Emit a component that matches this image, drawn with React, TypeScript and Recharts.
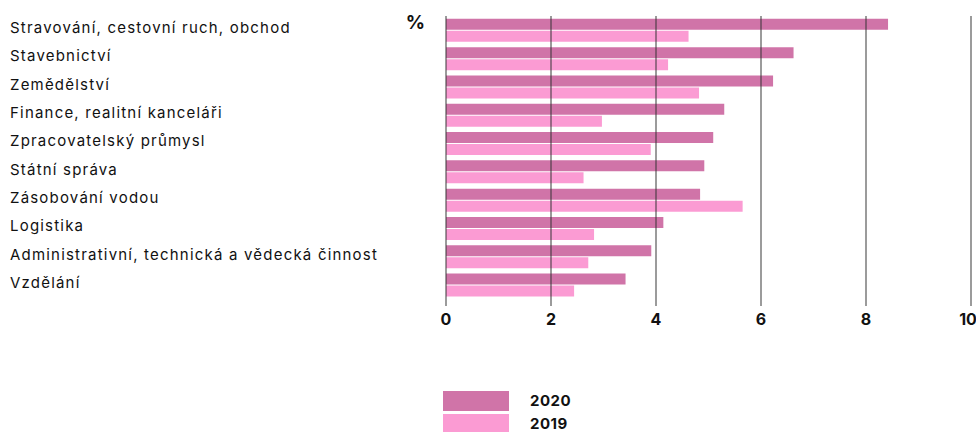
import { BarChart, Bar, XAxis, YAxis, ReferenceLine, Legend } from 'recharts';

const categories = [
  'Stravování, cestovní ruch, obchod',
  'Stavebnictví',
  'Zemědělství',
  'Finance, realitní kanceláři',
  'Zpracovatelský průmysl',
  'Státní správa',
  'Zásobování vodou',
  'Logistika',
  'Administrativní, technická a vědecká činnost',
  'Vzdělání',
];
const values2020 = [8.42, 6.62, 6.23, 5.3, 5.09, 4.92, 4.84, 4.14, 3.91, 3.42];
const values2019 = [4.62, 4.23, 4.82, 2.97, 3.9, 2.62, 5.65, 2.82, 2.71, 2.44];
const xTicks = [0, 2, 4, 6, 8, 10];

const COLOR_2020 = '#d074a8';
const COLOR_2019 = '#fb9bd3';
const FONT = 'Inter, "Noto Sans", sans-serif';

const data = categories.map((name, i) => ({
  name,
  y2020: values2020[i],
  y2019: values2019[i],
}));

const CategoryTick = (props: any) => {
  const { y, payload } = props;
  return (
    <text
      x={10}
      y={y}
      dy={3}
      textAnchor="start"
      fontSize={15}
      letterSpacing={1.2}
      fill="#111"
      fontFamily={FONT}
    >
      {payload.value}
    </text>
  );
};

const LegendContent = () => (
  <div style={{ fontFamily: FONT }}>
    {[
      { label: '2020', color: COLOR_2020 },
      { label: '2019', color: COLOR_2019 },
    ].map((item) => (
      <div key={item.label} style={{ display: 'flex', alignItems: 'center', height: 23 }}>
        <div style={{ width: 66, height: 20, background: item.color }} />
        <span style={{ marginLeft: 21, fontSize: 15, fontWeight: 700, color: '#111', letterSpacing: 0.5 }}>
          {item.label}
        </span>
      </div>
    ))}
  </div>
);

export default function App() {
  return (
    <div style={{ position: 'absolute', left: 0, top: 0, background: '#fff' }}>
      <BarChart
        width={976}
        height={432}
        data={data}
        layout="vertical"
        margin={{ top: 16, right: 5, bottom: 96, left: 0 }}
        barCategoryGap="10%"
        barGap={1}
      >
        <XAxis
          type="number"
          domain={[0, 10]}
          ticks={xTicks}
          axisLine={false}
          tickLine={false}
          height={30}
          tick={{ fontSize: 16, fontWeight: 700, fill: '#111', fontFamily: FONT }}
        />
        <YAxis
          type="category"
          dataKey="name"
          width={446}
          axisLine={false}
          tickLine={false}
          padding={{ top: 0, bottom: 7 }}
          tick={<CategoryTick />}
          label={{
            content: () => (
              <text x={425} y={29} textAnchor="end" fontSize={19} fontWeight={700} fill="#111" fontFamily={FONT}>
                %
              </text>
            ),
          }}
        />
        <Bar dataKey="y2020" name="2020" fill={COLOR_2020} isAnimationActive={false} />
        <Bar dataKey="y2019" name="2019" fill={COLOR_2019} isAnimationActive={false} />
        {xTicks.map((t) => (
          <ReferenceLine key={t} x={t} stroke="#333" strokeOpacity={0.65} strokeWidth={1.5} />
        ))}
        <Legend
          layout="vertical"
          align="center"
          verticalAlign="middle"
          wrapperStyle={{ position: 'absolute', top: 389, left: 443, width: 150 }}
          content={<LegendContent />}
        />
      </BarChart>
    </div>
  );
}
